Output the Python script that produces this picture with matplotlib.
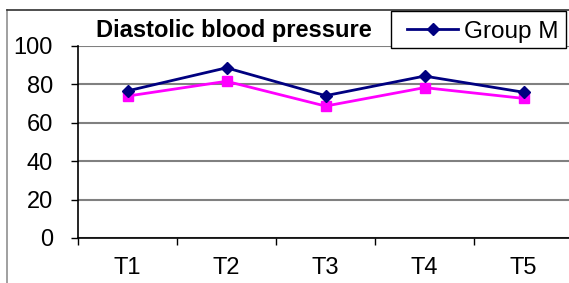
import numpy as np
import matplotlib
matplotlib.use('Agg')
import matplotlib.pyplot as plt
from matplotlib.lines import Line2D
from matplotlib.patches import Rectangle

plt.rcParams['font.family'] = ['Liberation Sans', 'DejaVu Sans']

## DATA
categories = ['T1', 'T2', 'T3', 'T4', 'T5']
group_m = [76.5, 88.5, 74.0, 84.2, 75.8]
group_2 = [73.8, 81.5, 68.6, 78.2, 72.6]
y_ticks = [0, 20, 40, 60, 80, 100]

W, H = 569, 283
fig = plt.figure(figsize=(W / 100, H / 100), dpi=100)
fig.patch.set_facecolor('white')

# plot area (pixel coords)
left, right, top, bottom = 78, 573, 45.7, 238
ax = fig.add_axes([left / W, 1 - bottom / H, (right - left) / W, (bottom - top) / H])

x = np.arange(len(categories))
ax.plot(x, group_2, color='#FF00FF', lw=2.0, marker='s', ms=7.5, mec='#FF00FF', mfc='#FF00FF', zorder=3)
ax.plot(x, group_m, color='#000080', lw=2.0, marker='D', ms=6.5, mec='#000080', mfc='#000080', zorder=4)

ax.set_xlim(-0.5, len(categories) - 0.5)
ax.set_ylim(0, 100)
ax.set_yticks(y_ticks)
ax.set_yticklabels([str(v) for v in y_ticks], fontsize=17)
ax.set_xticks(x)
ax.set_xticklabels(categories, fontsize=17)
ax.set_xticks(np.arange(len(categories) + 1) - 0.5, minor=True)
ax.tick_params(axis='x', which='major', length=0, pad=14)
ax.tick_params(axis='x', which='minor', length=5, width=1, direction='out', color='black')
ax.tick_params(axis='y', length=5, width=1, direction='out', pad=13, color='black')

## gridlines / spines
ax.grid(axis='y', color='#808080', lw=1.5)
ax.set_axisbelow(True)
for s in ['top', 'right']:
    ax.spines[s].set_visible(False)
ax.spines['left'].set_color('black')
ax.spines['bottom'].set_color('black')
ax.spines['left'].set_linewidth(1.2)
ax.spines['bottom'].set_linewidth(1.2)

## chart frame (cut off on the right and bottom)
fig.add_artist(Line2D([7 / W, 7 / W], [0, 1 - 10 / H], color='#909090', lw=1.2, transform=fig.transFigure))
fig.add_artist(Line2D([7 / W, 1], [1 - 10 / H, 1 - 10 / H], color='#303030', lw=1.2, transform=fig.transFigure))

## title
fig.text(233.5 / W, 1 - 36.5 / H, 'Diastolic blood pressure', fontsize=17, fontweight='bold',
         ha='center', va='baseline')

## legend box (drawn by hand to match the Excel layout)
fig.add_artist(Rectangle((391 / W, 1 - 47.5 / H), (566 - 391) / W, (47.5 - 11) / H,
                         transform=fig.transFigure, facecolor='white', edgecolor='black', lw=1.0, zorder=5))
fig.add_artist(Line2D([407 / W, 458 / W], [1 - 29 / H, 1 - 29 / H], color='#000080', lw=2.0,
                      transform=fig.transFigure, zorder=6))
fig.add_artist(Line2D([432.5 / W], [1 - 29 / H], color='#000080', marker='D', ms=6.5,
                      transform=fig.transFigure, zorder=6))
fig.text(464 / W, 1 - 29 / H, 'Group M', fontsize=17.5, ha='left', va='center_baseline', zorder=7)

plt.savefig('out.png', dpi=100)
